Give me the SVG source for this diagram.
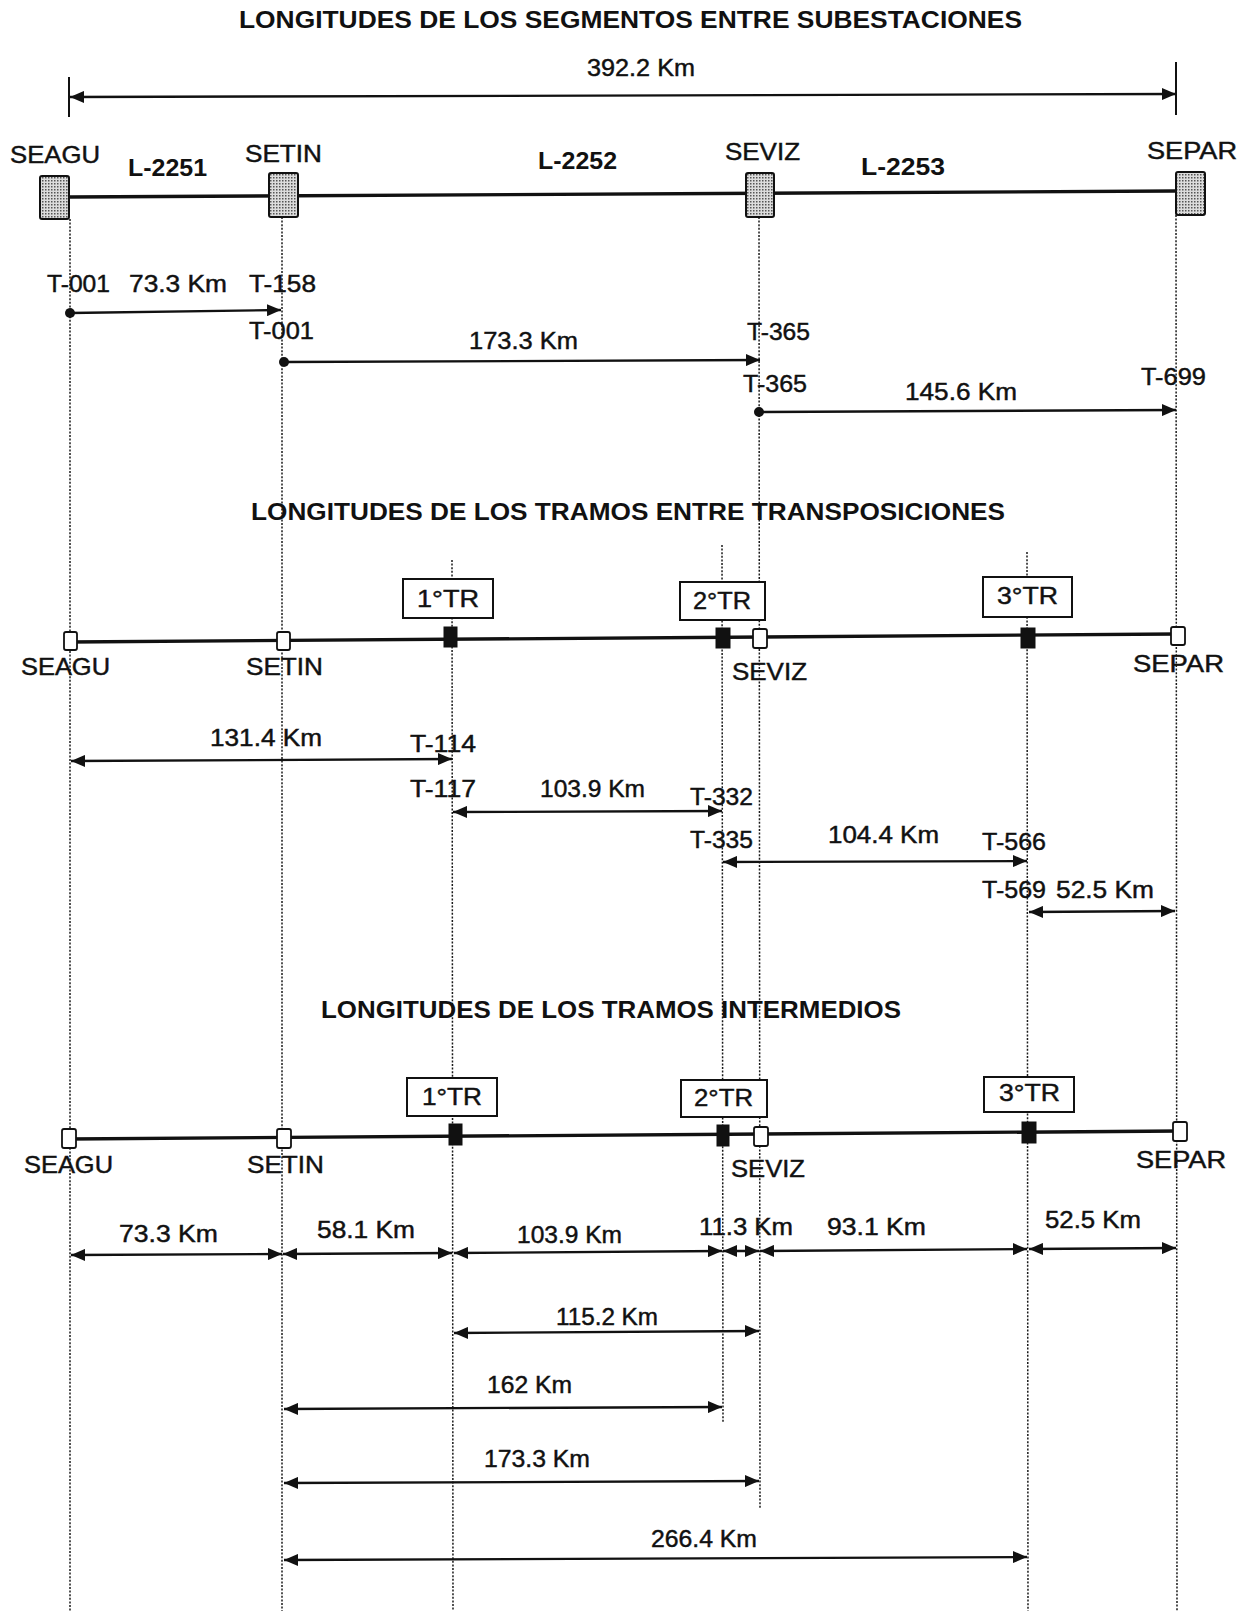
<svg xmlns="http://www.w3.org/2000/svg" width="1250" height="1611" viewBox="0 0 1250 1611">
<style>
text{font-family:"Liberation Sans",Arial,sans-serif;fill:#111}
.t{font-size:24px;stroke:#111;stroke-width:0.45}
.b{font-size:24px;font-weight:bold}
.h{font-size:23px;font-weight:bold}
.guide{stroke:#1a1a1a;stroke-width:1.5;stroke-dasharray:2 1.6;fill:none}
.main{stroke:#111;stroke-width:3.4;fill:none}
.dim{stroke:#111;stroke-width:2.3;fill:none;marker-start:url(#ah);marker-end:url(#ah)}
.seg{stroke:#111;stroke-width:2.3;fill:none;marker-start:url(#dot);marker-end:url(#ah)}
.sub{fill:url(#stipple);stroke:#111;stroke-width:2}
.ws{fill:#fff;stroke:#111;stroke-width:1.8}
.tm{fill:#111;stroke:#111;stroke-width:1}
.trb{fill:#fff;stroke:#111;stroke-width:2}
</style>
<defs>
<pattern id="stipple" width="3" height="3" patternUnits="userSpaceOnUse"><rect width="3" height="3" fill="#dcdcdc"/><rect width="1.5" height="1.5" fill="#555"/></pattern>
<marker id="ah" markerUnits="userSpaceOnUse" markerWidth="14" markerHeight="12" refX="14" refY="6" orient="auto-start-reverse"><path d="M0,0 L14,6 L0,12 z" fill="#111"/></marker>
<marker id="dot" markerUnits="userSpaceOnUse" markerWidth="11" markerHeight="11" refX="5.5" refY="5.5" orient="auto"><circle cx="5.5" cy="5.5" r="5" fill="#111"/></marker>
</defs>
<rect width="1250" height="1611" fill="#fff"/>

<g id="guides">
<line class="guide" x1="70" y1="219" x2="70" y2="1611"/>
<line class="guide" x1="282" y1="217" x2="282" y2="1611"/>
<line class="guide" x1="759" y1="217" x2="760" y2="1509"/>
<line class="guide" x1="1176" y1="215" x2="1177" y2="1611"/>
<line class="guide" x1="452" y1="560" x2="453" y2="1611"/>
<line class="guide" x1="722" y1="545" x2="723" y2="1422"/>
<line class="guide" x1="1027" y1="552" x2="1028" y2="1611"/>
</g>

<g id="titles">
<text class="h" x="239" y="28" textLength="783" lengthAdjust="spacingAndGlyphs">LONGITUDES DE LOS SEGMENTOS ENTRE SUBESTACIONES</text>
<text class="h" x="251" y="520" textLength="754" lengthAdjust="spacingAndGlyphs">LONGITUDES DE LOS TRAMOS ENTRE TRANSPOSICIONES</text>
<text class="h" x="321" y="1018" textLength="580" lengthAdjust="spacingAndGlyphs">LONGITUDES DE LOS TRAMOS INTERMEDIOS</text>
</g>

<g id="connectors">
<line class="dim" x1="70" y1="97" x2="1176" y2="94"/>
<line stroke="#111" stroke-width="2" x1="69" y1="77" x2="69" y2="117"/>
<line stroke="#111" stroke-width="2" x1="1176" y1="62" x2="1176" y2="115"/>
<line class="main" x1="69" y1="197" x2="1175" y2="191"/>
<line class="seg" x1="70" y1="313" x2="281" y2="310"/>
<line class="seg" x1="284" y1="362" x2="760" y2="360"/>
<line class="seg" x1="759" y1="412" x2="1176" y2="410"/>
<line class="main" x1="70" y1="642" x2="1176" y2="634"/>
<line class="dim" x1="71" y1="761" x2="452" y2="759"/>
<line class="dim" x1="453" y1="812" x2="722" y2="811"/>
<line class="dim" x1="723" y1="862" x2="1027" y2="861"/>
<line class="dim" x1="1029" y1="912" x2="1175" y2="911"/>
<line class="main" x1="69" y1="1139" x2="1180" y2="1131"/>
<line class="dim" x1="71" y1="1255" x2="282" y2="1254"/>
<line class="dim" x1="283" y1="1254" x2="452" y2="1253"/>
<line class="dim" x1="454" y1="1253" x2="722" y2="1251"/>
<line class="dim" x1="723" y1="1251" x2="759" y2="1251"/>
<line class="dim" x1="760" y1="1251" x2="1027" y2="1249"/>
<line class="dim" x1="1029" y1="1249" x2="1176" y2="1248"/>
<line class="dim" x1="454" y1="1333" x2="759" y2="1331"/>
<line class="dim" x1="284" y1="1409" x2="722" y2="1407"/>
<line class="dim" x1="284" y1="1483" x2="759" y2="1481"/>
<line class="dim" x1="284" y1="1560" x2="1027" y2="1557"/>
</g>

<g id="sec1-labels">
<text class="t" x="587" y="76" textLength="108" lengthAdjust="spacingAndGlyphs">392.2 Km</text>
<text class="b" x="128" y="176" textLength="79" lengthAdjust="spacingAndGlyphs">L-2251</text>
<text class="b" x="538" y="169" textLength="79" lengthAdjust="spacingAndGlyphs">L-2252</text>
<text class="b" x="861" y="175" textLength="84" lengthAdjust="spacingAndGlyphs">L-2253</text>
<text class="t" x="47" y="292" textLength="63" lengthAdjust="spacingAndGlyphs">T-001</text>
<text class="t" x="129" y="292" textLength="98" lengthAdjust="spacingAndGlyphs">73.3 Km</text>
<text class="t" x="249" y="292" textLength="67" lengthAdjust="spacingAndGlyphs">T-158</text>
<text class="t" x="249" y="339" textLength="65" lengthAdjust="spacingAndGlyphs">T-001</text>
<text class="t" x="469" y="349" textLength="109" lengthAdjust="spacingAndGlyphs">173.3 Km</text>
<text class="t" x="747" y="340" textLength="63" lengthAdjust="spacingAndGlyphs">T-365</text>
<text class="t" x="743" y="392" textLength="64" lengthAdjust="spacingAndGlyphs">T-365</text>
<text class="t" x="905" y="400" textLength="112" lengthAdjust="spacingAndGlyphs">145.6 Km</text>
<text class="t" x="1141" y="385" textLength="65" lengthAdjust="spacingAndGlyphs">T-699</text>
</g>

<g id="SEAGU-1"><rect class="sub" x="40" y="176" width="29" height="43" rx="2"/><text class="t" x="10" y="163" textLength="90" lengthAdjust="spacingAndGlyphs">SEAGU</text></g>
<g id="SETIN-1"><rect class="sub" x="269" y="173" width="29" height="44" rx="2"/><text class="t" x="245" y="162" textLength="77" lengthAdjust="spacingAndGlyphs">SETIN</text></g>
<g id="SEVIZ-1"><rect class="sub" x="746" y="173" width="28" height="44" rx="2"/><text class="t" x="725" y="160" textLength="75" lengthAdjust="spacingAndGlyphs">SEVIZ</text></g>
<g id="SEPAR-1"><rect class="sub" x="1176" y="172" width="29" height="43" rx="2"/><text class="t" x="1147" y="159" textLength="90" lengthAdjust="spacingAndGlyphs">SEPAR</text></g>

<g id="SEAGU-2"><rect class="ws" x="64" y="632" width="13" height="18" rx="2"/><text class="t" x="21" y="675" textLength="89" lengthAdjust="spacingAndGlyphs">SEAGU</text></g>
<g id="SETIN-2"><rect class="ws" x="277" y="632" width="13" height="18" rx="2"/><text class="t" x="246" y="675" textLength="77" lengthAdjust="spacingAndGlyphs">SETIN</text></g>
<g id="SEVIZ-2"><rect class="ws" x="753" y="629" width="14" height="19" rx="2"/><text class="t" x="732" y="680" textLength="75" lengthAdjust="spacingAndGlyphs">SEVIZ</text></g>
<g id="SEPAR-2"><rect class="ws" x="1171" y="627" width="14" height="18" rx="2"/><text class="t" x="1133" y="672" textLength="91" lengthAdjust="spacingAndGlyphs">SEPAR</text></g>
<g id="TR1-2"><rect class="tm" x="444" y="627" width="13" height="20"/><rect class="trb" x="403" y="579" width="90" height="39"/><text class="t" x="417" y="607" textLength="62" lengthAdjust="spacingAndGlyphs">1°TR</text></g>
<g id="TR2-2"><rect class="tm" x="716" y="628" width="14" height="20"/><rect class="trb" x="680" y="582" width="85" height="38"/><text class="t" x="693" y="609" textLength="58" lengthAdjust="spacingAndGlyphs">2°TR</text></g>
<g id="TR3-2"><rect class="tm" x="1021" y="628" width="14" height="20"/><rect class="trb" x="983" y="577" width="89" height="40"/><text class="t" x="997" y="604" textLength="61" lengthAdjust="spacingAndGlyphs">3°TR</text></g>

<g id="sec2-labels">
<text class="t" x="210" y="746" textLength="112" lengthAdjust="spacingAndGlyphs">131.4 Km</text>
<text class="t" x="410" y="752" textLength="66" lengthAdjust="spacingAndGlyphs">T-114</text>
<text class="t" x="410" y="797" textLength="66" lengthAdjust="spacingAndGlyphs">T-117</text>
<text class="t" x="540" y="797" textLength="105" lengthAdjust="spacingAndGlyphs">103.9 Km</text>
<text class="t" x="690" y="805" textLength="63" lengthAdjust="spacingAndGlyphs">T-332</text>
<text class="t" x="690" y="848" textLength="63" lengthAdjust="spacingAndGlyphs">T-335</text>
<text class="t" x="828" y="843" textLength="111" lengthAdjust="spacingAndGlyphs">104.4 Km</text>
<text class="t" x="982" y="850" textLength="64" lengthAdjust="spacingAndGlyphs">T-566</text>
<text class="t" x="982" y="898" textLength="64" lengthAdjust="spacingAndGlyphs">T-569</text>
<text class="t" x="1056" y="898" textLength="98" lengthAdjust="spacingAndGlyphs">52.5 Km</text>
</g>

<g id="SEAGU-3"><rect class="ws" x="62" y="1129" width="14" height="19" rx="2"/><text class="t" x="24" y="1173" textLength="89" lengthAdjust="spacingAndGlyphs">SEAGU</text></g>
<g id="SETIN-3"><rect class="ws" x="277" y="1129" width="14" height="19" rx="2"/><text class="t" x="247" y="1173" textLength="77" lengthAdjust="spacingAndGlyphs">SETIN</text></g>
<g id="SEVIZ-3"><rect class="ws" x="754" y="1127" width="14" height="19" rx="2"/><text class="t" x="731" y="1177" textLength="74" lengthAdjust="spacingAndGlyphs">SEVIZ</text></g>
<g id="SEPAR-3"><rect class="ws" x="1173" y="1122" width="14" height="19" rx="2"/><text class="t" x="1136" y="1168" textLength="90" lengthAdjust="spacingAndGlyphs">SEPAR</text></g>
<g id="TR1-3"><rect class="tm" x="449" y="1124" width="13" height="21"/><rect class="trb" x="407" y="1078" width="90" height="38"/><text class="t" x="422" y="1105" textLength="60" lengthAdjust="spacingAndGlyphs">1°TR</text></g>
<g id="TR2-3"><rect class="tm" x="717" y="1125" width="12" height="21"/><rect class="trb" x="681" y="1080" width="86" height="37"/><text class="t" x="694" y="1106" textLength="59" lengthAdjust="spacingAndGlyphs">2°TR</text></g>
<g id="TR3-3"><rect class="tm" x="1022" y="1122" width="14" height="21"/><rect class="trb" x="984" y="1077" width="90" height="35"/><text class="t" x="999" y="1101" textLength="61" lengthAdjust="spacingAndGlyphs">3°TR</text></g>

<g id="sec3-labels">
<text class="t" x="119" y="1242" textLength="99" lengthAdjust="spacingAndGlyphs">73.3 Km</text>
<text class="t" x="317" y="1238" textLength="98" lengthAdjust="spacingAndGlyphs">58.1 Km</text>
<text class="t" x="517" y="1243" textLength="105" lengthAdjust="spacingAndGlyphs">103.9 Km</text>
<text class="t" x="699" y="1235" textLength="94" lengthAdjust="spacingAndGlyphs">11.3 Km</text>
<text class="t" x="827" y="1235" textLength="99" lengthAdjust="spacingAndGlyphs">93.1 Km</text>
<text class="t" x="1045" y="1228" textLength="96" lengthAdjust="spacingAndGlyphs">52.5 Km</text>
<text class="t" x="556" y="1325" textLength="102" lengthAdjust="spacingAndGlyphs">115.2 Km</text>
<text class="t" x="487" y="1393" textLength="85" lengthAdjust="spacingAndGlyphs">162 Km</text>
<text class="t" x="484" y="1467" textLength="106" lengthAdjust="spacingAndGlyphs">173.3 Km</text>
<text class="t" x="651" y="1547" textLength="106" lengthAdjust="spacingAndGlyphs">266.4 Km</text>
</g>
</svg>
